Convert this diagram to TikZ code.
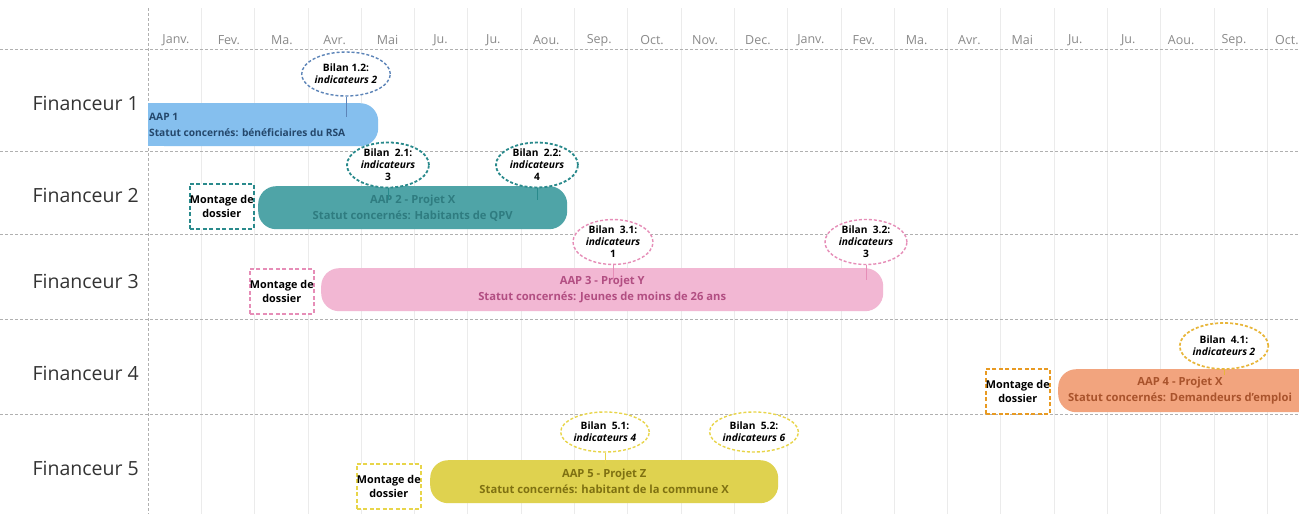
\documentclass[tikz,border=0pt]{standalone}
\usepackage{fontspec}
\setmainfont{Open Sans}
\usetikzlibrary{shapes.geometric}
\definecolor{gridc}{HTML}{EBEBEB}
\definecolor{dashc}{HTML}{B0B0B0}
\definecolor{monthc}{HTML}{8A8A8A}
\definecolor{labc}{HTML}{333333}
\definecolor{bluebar}{HTML}{85BFEE}
\definecolor{bluetxt}{HTML}{24476B}
\definecolor{blueln}{HTML}{5C84B8}
\definecolor{tealbar}{HTML}{4FA4A7}
\definecolor{tealtxt}{HTML}{2F7C80}
\definecolor{tealln}{HTML}{2A8A8C}
\definecolor{pinkbar}{HTML}{F2B7D3}
\definecolor{pinktxt}{HTML}{B24E82}
\definecolor{pinkln}{HTML}{E68DB7}
\definecolor{orbar}{HTML}{F2A47E}
\definecolor{ortxt}{HTML}{A9532C}
\definecolor{orln}{HTML}{E89A22}
\definecolor{goldln}{HTML}{E8B63A}
\definecolor{yelbar}{HTML}{DFD24F}
\definecolor{yeltxt}{HTML}{7F7112}
\definecolor{yelln}{HTML}{E8D54A}
\tikzset{
  gridv/.style={gridc, line width=0.8pt},
  hdash/.style={dashc, dashed, dash pattern=on 3pt off 2pt, line width=0.8pt},
  month/.style={monthc, font=\fontsize{12.5}{14}\selectfont, inner sep=0pt},
  finlab/.style={labc, font=\fontsize{19.5}{22}\selectfont, anchor=east, inner sep=0pt},
  bar/.style={rectangle, rounded corners=18pt, minimum height=43pt, anchor=north west,
    inner sep=2pt, align=center, font=\bfseries\fontsize{11.2}{16}\selectfont},
  montage/.style={rectangle, draw, dashed, dash pattern=on 4pt off 2.5pt, line width=1.6pt,
    fill=white, minimum width=64pt, minimum height=45pt, anchor=north west, inner sep=0pt,
    align=center, font=\bfseries\fontsize{10.8}{14}\selectfont},
  bilan/.style={ellipse, draw, dashed, dash pattern=on 3pt off 2pt, line width=1.4pt,
    fill=white, inner sep=0pt, align=center, font=\bfseries\fontsize{10.2}{12}\selectfont},
  conn/.style={line width=1pt}
}
\begin{document}
\begin{tikzpicture}[x=1pt,y=-1pt]
\useasboundingbox (0,0) rectangle (1299,514);
\fill[white] (0,0) rectangle (1299,514);
% grid
\foreach \k in {1,...,21} \draw[gridv] ({148+\k*53.3},8) -- ({148+\k*53.3},514);
\draw[hdash] (148,8) -- (148,514);
\foreach \yy in {49,151,234,319,414} \draw[hdash] (0,\yy) -- (1299,\yy);
% months
\foreach \m [count=\k from 0] in {Janv.,Fev.,Ma.,Avr.,Mai,Ju.,Ju.,Aou.,Sep.,Oct.,Nov.,Dec.,Janv.,Fev.,Ma.,Avr.,Mai,Ju.,Ju.,Aou.,Sep.,Oct.}
  \node[month] (mo\k) at ({176+\k*52.9},40) {\m};
% financeur labels
\node[finlab] (f1) at (139,103) {Financeur 1};
\node[finlab] (f2) at (139,195) {Financeur 2};
\node[finlab] (f3) at (139,281) {Financeur 3};
\node[finlab] (f4) at (139,373) {Financeur 4};
\node[finlab] (f5) at (139,468) {Financeur 5};
% bars
\node[bar, fill=bluebar, minimum width=230pt] (a1) at (148,103) {};
\fill[bluebar] (a1.north west) rectangle ([xshift=30pt]a1.south west);
\node[anchor=west, inner sep=1pt, text=bluetxt, align=left, font=\bfseries\fontsize{10.2}{16}\selectfont] (a1t) at (a1.west)
  {AAP 1\\Statut concernés: bénéficiaires du RSA};
\node[bar, fill=tealbar, minimum width=309pt, text=tealtxt] (a2) at (258,186)
  {AAP 2 - Projet X\\Statut concernés: Habitants de QPV};
\node[bar, fill=pinkbar, minimum width=562pt, text=pinktxt] (a3) at (321,268)
  {AAP 3 - Projet Y\\Statut concernés: Jeunes de moins de 26 ans};
\node[bar, fill=orbar, minimum width=300pt] (a4) at (1058,369) {};
\node[text=ortxt, align=center, inner sep=0pt, font=\bfseries\fontsize{11.2}{16}\selectfont] (a4t) at (1180,390.5)
  {AAP 4 - Projet X\\Statut concernés: Demandeurs d'emploi};
\node[bar, fill=yelbar, minimum width=348pt, text=yeltxt] (a5) at (430,460)
  {AAP 5 - Projet Z\\Statut concernés: habitant de la commune X};
% montage
\node[montage, draw=tealln] (m2) at (189,183) {Montage de\\dossier};
\node[montage, draw=pinkln] (m3) at (249,268) {Montage de\\dossier};
\node[montage, draw=orln] (m4) at (985,368) {Montage de\\dossier};
\node[montage, draw=yelln] (m5) at (356,463) {Montage de\\dossier};
% bilans
\node[bilan, draw=blueln, minimum width=80pt, minimum height=44pt] (b12) at (346,74)
  {Bilan 1.2:\\\textit{indicateurs 2}};
\node[bilan, draw=tealln, line width=1.8pt, minimum width=82pt, minimum height=42pt] (b21) at (388,165)
  {Bilan~ 2.1:\\\textit{indicateurs}\\3};
\node[bilan, draw=tealln, line width=1.8pt, minimum width=82pt, minimum height=42pt] (b22) at (537,165)
  {Bilan~ 2.2:\\\textit{indicateurs}\\4};
\node[bilan, draw=pinkln, minimum width=80pt, minimum height=40pt] (b31) at (613,242)
  {Bilan~ 3.1:\\\textit{indicateurs}\\1};
\node[bilan, draw=pinkln, minimum width=82pt, minimum height=40pt] (b32) at (866,242)
  {Bilan~ 3.2:\\\textit{indicateurs}\\3};
\node[bilan, draw=goldln, line width=1.7pt, minimum width=88pt, minimum height=46pt] (b41) at (1224,346)
  {Bilan~ 4.1:\\\textit{indicateurs 2}};
\node[bilan, draw=yelln, minimum width=84pt, minimum height=40pt] (b51) at (605,432)
  {Bilan~ 5.1:\\\textit{indicateurs 4}};
\node[bilan, draw=yelln, minimum width=84pt, minimum height=40pt] (b52) at (754,432)
  {Bilan~ 5.2:\\\textit{indicateurs 6}};
% connectors
\coordinate (c12) at (b12.south |- a1.north);
\coordinate (c21) at (b21.south |- a2.north);
\coordinate (c22) at (b22.south |- a2.north);
\coordinate (c31) at (b31.south |- a3.north);
\coordinate (c32) at (b32.south |- a3.north);
\coordinate (c41) at (b41.south |- a4.north);
\coordinate (c51) at (b51.south |- a5.north);
\draw[conn, blueln] (b12.south) -- ([yshift=-14pt]c12);
\draw[conn, tealln] (b21.south) -- ([yshift=-14pt]c21);
\draw[conn, tealln] (b22.south) -- ([yshift=-14pt]c22);
\draw[conn, pinkln] (b31.south) -- ([yshift=-12pt]c31);
\draw[conn, pinkln] (b32.south) -- ([yshift=-12pt]c32);
\draw[conn, goldln] (b41.south) -- ([yshift=-6pt]c41);
\draw[conn, yelln] (b51.south) -- ([yshift=-4pt]c51);
\end{tikzpicture}
\end{document}
